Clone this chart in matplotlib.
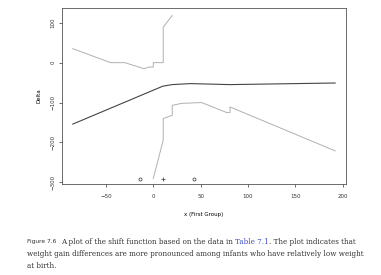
import numpy as np
import matplotlib
matplotlib.use("Agg")
import matplotlib.pyplot as plt

# shift function (dark line)
x_shift = [-85, 10, 20, 39, 81, 192]
delta_shift = [-154, -59, -55, -52.5, -55, -51]

# upper confidence band
x_upper = [-85, -45, -30, -10, -4, 0, 0, 10.5, 10.5, 20]
delta_upper = [35, 0, 0, -15, -11, -11, 0, 0, 89, 118]

# lower confidence band
x_lower = [0, 10.5, 10.5, 20, 20, 30, 51, 77.5, 81, 81, 192]
delta_lower = [-290, -194, -140, -132, -107, -102, -100, -125, -125, -111, -221]

# markers along the bottom
x_circ = [-14, 43]
y_circ = [-292, -292]
x_plus = [10.5]
y_plus = [-292]

fig = plt.figure(figsize=(3.81, 2.75), dpi=100)
ax = fig.add_axes([0.1627, 0.331, 0.907 - 0.1627, 0.971 - 0.331])

ax.plot(x_upper, delta_upper, color="#b0b0b0", lw=0.7)
ax.plot(x_lower, delta_lower, color="#b0b0b0", lw=0.7)
ax.plot(x_shift, delta_shift, color="#444444", lw=0.8)
ax.plot(x_circ, y_circ, "o", mfc="none", mec="#333333", ms=2.2, mew=0.5)
ax.plot(x_plus, y_plus, "+", color="#333333", ms=2.2, mew=0.5)

ax.set_xlim(-96.4, 203)
ax.set_ylim(-304, 137)
ax.set_xticks([-50, 0, 50, 100, 150, 200])
ax.set_yticks([-300, -200, -100, 0, 100])
ax.tick_params(labelsize=4, length=2.5, width=0.5, colors="#333333")
ax.tick_params(axis="x", pad=5)
ax.tick_params(axis="y", pad=2)
for lab in ax.get_yticklabels():
    lab.set_rotation(90)
    lab.set_va("center")
for s in ax.spines.values():
    s.set_linewidth(0.6)
    s.set_color("#555555")
ax.set_xlabel("x (First Group)", fontsize=4, labelpad=9)
ax.set_ylabel("Delta", fontsize=4, labelpad=7)

# caption
cap_font = dict(family="DejaVu Serif", fontsize=5.2, color="#333333")
fig.canvas.draw()
r = fig.canvas.get_renderer()
W = fig.bbox.width
x0 = 27 / W
y1 = 1 - 241.5 / 275
t = fig.text(x0, y1, "Figure 7.6", family="DejaVu Sans", fontsize=4.2, color="#333333",
             va="center")
bb = t.get_window_extent(r)
x = (bb.x1 + 5) / W
t = fig.text(x, y1, "A plot of the shift function based on the data in ", va="center", **cap_font)
bb = t.get_window_extent(r)
x = bb.x1 / W
t = fig.text(x, y1, "Table 7.1", va="center", family="DejaVu Serif", fontsize=5.2, color="#3a4fc4")
bb = t.get_window_extent(r)
x = bb.x1 / W
fig.text(x, y1, ". The plot indicates that", va="center", **cap_font)
fig.text(x0, 1 - 253.5 / 275,
         "weight gain differences are more pronounced among infants who have relatively low weight",
         va="center", **cap_font)
fig.text(x0, 1 - 265.5 / 275, "at birth.", va="center", **cap_font)

fig.savefig("out.png", dpi=100)
